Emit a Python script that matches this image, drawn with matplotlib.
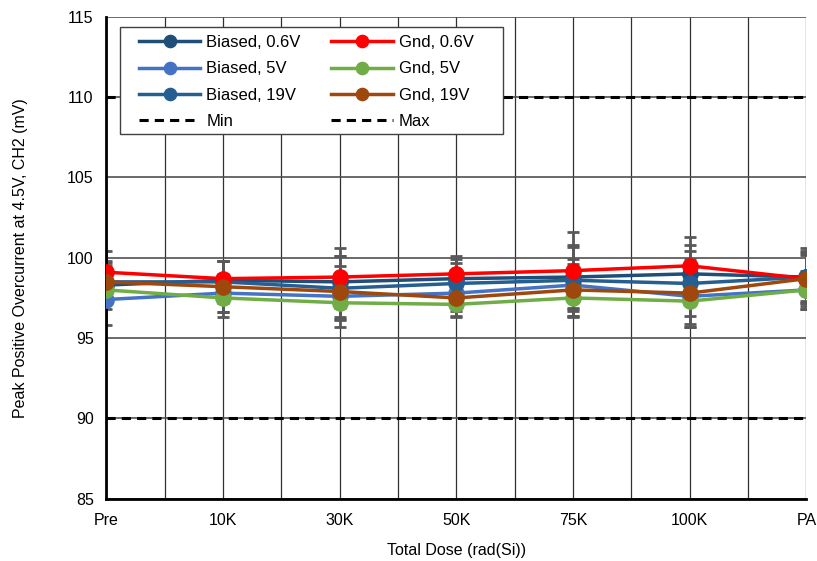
import numpy as np
import matplotlib.pyplot as plt
from matplotlib.patches import Rectangle

plt.rcParams['font.family'] = ['Liberation Sans', 'DejaVu Sans']

cats = ['Pre', '10K', '30K', '50K', '75K', '100K', 'PA']

biased_06 = [98.3, 98.6, 98.5, 98.7, 98.8, 99.0, 98.8]
biased_5 = [97.4, 97.8, 97.6, 97.8, 98.3, 97.6, 98.0]
biased_19 = [98.5, 98.5, 98.1, 98.4, 98.6, 98.4, 98.8]
gnd_06 = [99.1, 98.7, 98.8, 99.0, 99.2, 99.5, 98.7]
gnd_5 = [98.0, 97.5, 97.2, 97.1, 97.5, 97.3, 98.0]
gnd_19 = [98.5, 98.2, 97.9, 97.5, 98.0, 97.8, 98.7]

err_b06 = [1.2, 1.2, 1.6, 1.2, 1.9, 1.8, 1.6]
err_b5 = [1.6, 1.2, 1.4, 1.1, 1.6, 1.7, 1.0]
err_b19 = [1.2, 1.3, 2.0, 1.3, 2.2, 2.0, 1.5]
err_g06 = [1.3, 1.1, 1.8, 1.1, 2.4, 1.8, 1.9]
err_g5 = [1.2, 1.2, 1.5, 0.8, 1.2, 1.6, 1.2]
err_g19 = [1.3, 1.6, 1.6, 1.1, 1.6, 2.1, 1.5]

min_val = 90
max_val = 110

series = [
    ('Biased, 0.6V', biased_06, err_b06, '#1F4E79'),
    ('Biased, 5V', biased_5, err_b5, '#4472C4'),
    ('Biased, 19V', biased_19, err_b19, '#255E91'),
    ('Gnd, 0.6V', gnd_06, err_g06, '#FF0000'),
    ('Gnd, 5V', gnd_5, err_g5, '#70AD47'),
    ('Gnd, 19V', gnd_19, err_g19, '#9E480E'),
]

fig = plt.figure(figsize=(8.17, 5.61), dpi=100)
ax = fig.add_axes([0.130, 0.111, 0.857, 0.859])

x = np.arange(len(cats))

# grid
for gx in np.arange(0, len(cats) - 0.5 + 0.01, 0.5):
    ax.axvline(gx, color='#303030', lw=0.9, zorder=0)
for gy in range(85, 116, 5):
    ax.axhline(gy, color='#505050', lw=1.2, zorder=0)

handles = {}
for name, vals, err, col in series:
    ax.errorbar(x, vals, yerr=err, fmt='none', ecolor='#595959',
                elinewidth=2, capsize=4, capthick=2, zorder=2)
for name, vals, err, col in series:
    h, = ax.plot(x, vals, color=col, lw=2.5, marker='o', ms=11,
                 label=name, zorder=3)
    handles[name] = h

hmin = ax.axhline(min_val, color='black', lw=2.2, ls=(0, (3, 2)), zorder=2,
                  label='Min')
hmax = ax.axhline(max_val, color='black', lw=2.2, ls=(0, (3, 2)), zorder=2,
                  label='Max')

ax.set_xlim(0, len(cats) - 1)
ax.set_ylim(85, 115)
ax.set_yticks(range(85, 116, 5))
ax.set_xticks(x)
ax.set_xticklabels(cats)
ax.tick_params(length=0, labelsize=11.5, pad=9)
ax.tick_params(axis='x', pad=10)

for s in ['top', 'right']:
    ax.spines[s].set_visible(False)
ax.spines['left'].set_linewidth(2)
ax.spines['bottom'].set_linewidth(2)

ax.set_xlabel('Total Dose (rad(Si))', fontsize=11.5, labelpad=11)
ax.set_ylabel('Peak Positive Overcurrent at 4.5V, CH2 (mV)', fontsize=11.5,
              labelpad=28)

# legend box (Excel style, wider padding at the sides)
ax.add_patch(Rectangle((0.02, 0.757), 0.546, 0.222, transform=ax.transAxes,
                       facecolor='white', edgecolor='#404040', lw=1,
                       zorder=4))
order = [handles['Biased, 0.6V'], handles['Biased, 5V'], handles['Biased, 19V'],
         hmin, handles['Gnd, 0.6V'], handles['Gnd, 5V'], handles['Gnd, 19V'], hmax]
leg = ax.legend(handles=order, ncol=2, loc='upper left',
                bbox_to_anchor=(0.037, 0.976), fontsize=12, frameon=False,
                handlelength=3.7, handletextpad=0.35, columnspacing=1.85,
                labelspacing=0.68, borderpad=0.4, borderaxespad=0,
                markerscale=0.8)
leg.set_zorder(5)

fig.savefig('out.png', dpi=100)
